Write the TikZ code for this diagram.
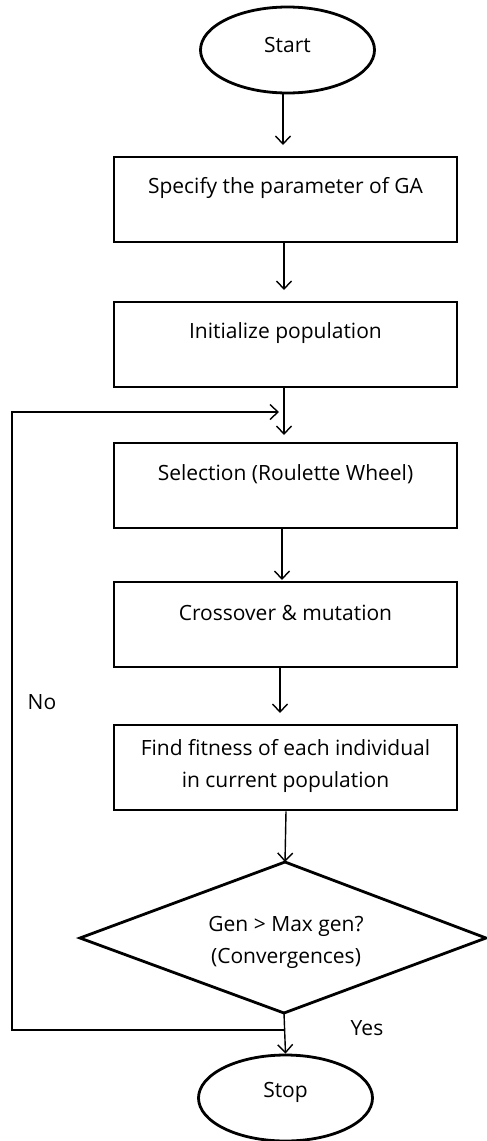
\documentclass[tikz,border=0pt]{standalone}
\usepackage{fontspec}
\setmainfont{Open Sans}
\usetikzlibrary{shapes.geometric,arrows.meta}
\begin{document}
\begin{tikzpicture}[x=1pt,y=-1pt,
  every node/.style={font=\fontsize{21}{32}\selectfont},
  procbox/.style={draw, line width=2.8pt, minimum width=343pt, minimum height=85pt, inner sep=0pt},
  term/.style={draw, ellipse, line width=2.8pt, minimum width=174pt, minimum height=86pt, inner sep=0pt},
  conn/.style={line width=1.4pt, -{Straight Barb[length=8pt,width=15pt,line width=1.4pt]}},
  plain/.style={line width=1.4pt},
  lbl/.style={inner sep=0pt}
]
\useasboundingbox (0,0) rectangle (487,1141);
\node[term] (start) at (287.5,50) {};
\node[lbl] at (287.5,45) {Start};
\node[procbox] (b1) at (285.5,199.5) {};
\node[lbl] at (285.5,188) {Specify the parameter of GA};
\node[procbox] (b2) at (285.5,344.5) {};
\node[lbl] at (285.5,333) {Initialize population};
\node[procbox] (b3) at (285.5,485.5) {};
\node[lbl] at (285.5,474) {Selection (Roulette Wheel)};
\node[procbox] (b4) at (285.5,624.5) {};
\node[lbl] at (285.5,613) {Crossover \& mutation};
\node[procbox] (b5) at (285.5,767.5) {};
\node[lbl, align=center] at (285.5,766) {Find fitness of each individual\\in current population};
\coordinate (dtop) at (285,862);
\coordinate (dl) at (80,938);
\coordinate (dr) at (486,938);
\coordinate (db) at (284,1013);
\draw[line width=2.8pt, line join=miter] (dtop) -- (dr) -- (db) -- (dl) -- cycle;
\node[lbl, align=center] at (286,942) {Gen > Max gen?\\(Convergences)};
\node[term] (stop) at (285.5,1098) {};
\node[lbl] at (285.5,1092) {Stop};
\coordinate (m) at (284,412);
\coordinate (y) at (284,1030);
\draw[conn] (start.south -| 283,0) -- (283,145);
\draw[conn] (b1.south -| 284,0) -- (284,290);
\draw[plain] (b2.south -| 284,0) -- (m);
\draw[conn] (m) -- (284,435);
\draw[conn] (b3.south -| 282,0) -- (282,580);
\draw[conn] (b4.south -| 280,0) -- (280,713);
\draw[conn] (b5.south -| 286,0) -- (dtop);
\draw[conn] (db) -- (stop.north);
\draw[conn] (y) -- (12,1030) -- (12,412) -- (279,412);
\node[lbl] at (42,702) {No};
\node[lbl] at (367,1028) {Yes};
\end{tikzpicture}
\end{document}
